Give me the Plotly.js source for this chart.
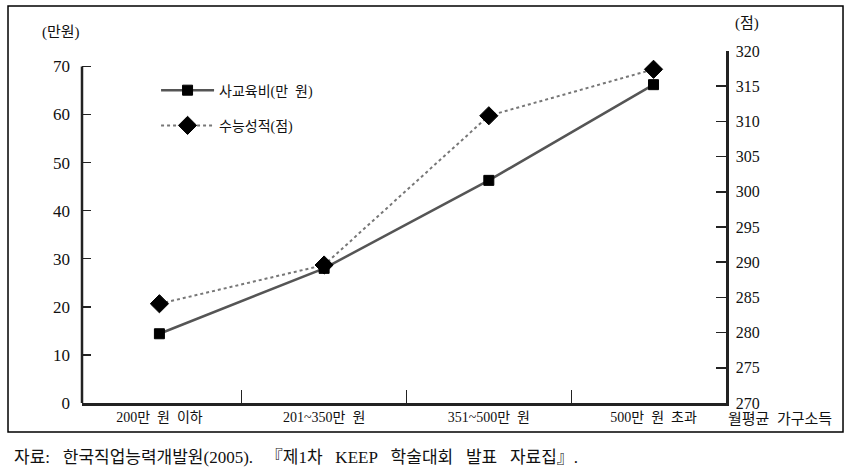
<!DOCTYPE html>
<html>
<head>
<meta charset="utf-8">
<script src="https://cdn.plot.ly/plotly-3.0.1.min.js"></script>
<style>
  html, body { margin: 0; padding: 0; background: #fff; }
  #chart { width: 852px; height: 474px; }
</style>
</head>
<body>
<div id="chart"></div>
<script>
// income brackets (x categories)
const incomeGroups = ["200만 원 이하", "201~350만 원", "351~500만 원", "500만 원 초과"];
// private tutoring spend, left axis (만원)
const tutoringCost = [14.4, 28.0, 46.3, 66.2];
// 수능 score, right axis (점)
const examScore = [284.1, 289.6, 310.8, 317.4];

const leftTicks = [0, 10, 20, 30, 40, 50, 60, 70];
const rightTicks = [270, 275, 280, 285, 290, 295, 300, 305, 310, 315, 320];

const serif = "Liberation Serif, 'Noto Sans CJK KR', serif";
const axisColor = "#222";

// the source uses a wide-spaced Korean font, so widen the gaps a bit
function wide(s, n) {
  return s.replace(/ /g, "\u00a0".repeat(n || 2));
}

const costTrace = {
  x: incomeGroups,
  y: tutoringCost,
  name: wide("사교육비(만 원)"),
  legendgroup: "cost",
  mode: "lines+markers",
  type: "scatter",
  line: { color: "#555", width: 2.5 },
  marker: { symbol: "square", size: 10, color: "#000", line: { color: "#000", width: 1 } },
  yaxis: "y"
};

const scoreTrace = {
  x: incomeGroups,
  y: examScore,
  name: "수능성적(점)",
  legendgroup: "score",
  mode: "lines+markers",
  type: "scatter",
  line: { color: "#777", width: 2, dash: "dot" },
  marker: { symbol: "diamond", size: 14, color: "#000", line: { color: "#000", width: 1 } },
  yaxis: "y2"
};

const layout = {
  width: 852,
  height: 474,
  margin: { l: 82, r: 126, t: 51, b: 71 },
  paper_bgcolor: "#fff",
  plot_bgcolor: "#fff",
  font: { family: serif, size: 15, color: "#111" },
  showlegend: true,
  legend: {
    x: 0.115, y: 0.933, xanchor: "left", yanchor: "top",
    bgcolor: "rgba(0,0,0,0)",
    font: { family: serif, size: 14, color: "#111" },
    itemwidth: 53,
    tracegroupgap: 14
  },
  xaxis: {
    type: "category",
    range: [-0.47, 3.44],
    tickvals: incomeGroups,
    ticktext: incomeGroups.map(s => wide(s)),
    showline: true, linecolor: axisColor, linewidth: 2.5,
    ticks: "inside", tickson: "boundaries", ticklen: 13, tickwidth: 1, tickcolor: axisColor,
    showgrid: false, zeroline: false,
    tickfont: { family: serif, size: 14 },
    fixedrange: true
  },
  yaxis: {
    range: [0, 73.2],
    tickvals: leftTicks,
    showline: false,
    ticks: "inside", ticklen: 9, tickwidth: 1.5, tickcolor: axisColor,
    showgrid: false, zeroline: false,
    ticklabelstandoff: 11,
    tickfont: { family: serif, size: 17 }
  },
  yaxis2: {
    overlaying: "y",
    side: "right",
    range: [270, 320],
    tickvals: rightTicks,
    showline: true, linecolor: axisColor, linewidth: 2.5,
    ticks: "inside", ticklen: 10, tickwidth: 1.5, tickcolor: axisColor,
    showgrid: false, zeroline: false,
    ticklabelstandoff: 4,
    tickfont: { family: serif, size: 16 }
  },
  shapes: [
    // left axis line only spans the 0-70 range
    { type: "line", xref: "paper", yref: "y", x0: 0, x1: 0, y0: 0, y1: 70,
      line: { color: axisColor, width: 2.5 } },
    // outer frame
    { type: "rect", xref: "paper", yref: "paper",
      x0: -0.1149, x1: 1.1817, y0: -0.0824, y1: 1.1278,
      line: { color: "#000", width: 1.5 } }
  ],
  annotations: [
    { text: "(만원)", xref: "paper", yref: "paper", x: -0.0326, y: 1.053,
      xanchor: "center", yanchor: "middle", showarrow: false, font: { size: 15 } },
    { text: "(점)", xref: "paper", yref: "paper", x: 1.0326, y: 1.077,
      xanchor: "center", yanchor: "middle", showarrow: false, font: { size: 15 } },
    { text: wide("월평균 가구소득"), xref: "paper", yref: "paper", x: 1.0, y: -0.045,
      xanchor: "left", yanchor: "middle", showarrow: false, font: { size: 15 } },
    { text: wide("자료: 한국직업능력개발원(2005). 『제1차 KEEP 학술대회 발표 자료집』.", 3),
      xref: "paper", yref: "paper", x: -0.109, y: -0.156,
      xanchor: "left", yanchor: "middle", showarrow: false, font: { size: 17 } }
  ]
};

Plotly.newPlot("chart", [costTrace, scoreTrace], layout, { displayModeBar: false, staticPlot: true });
</script>
</body>
</html>
